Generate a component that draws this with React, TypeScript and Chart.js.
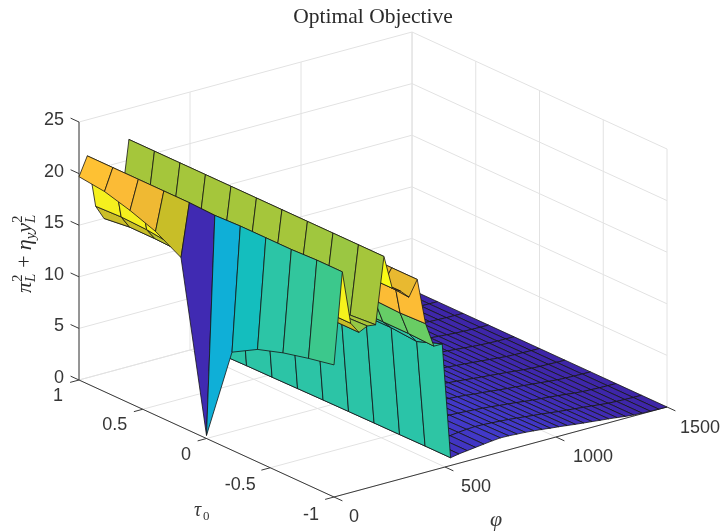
import React, { useEffect, useRef } from "react";
import { Chart, registerables } from "chart.js";

Chart.register(...registerables);

// phi grid: 0, 37.5, ... 1500 (41 columns); tau rows from 1 down to -1 in steps of 0.2
const phiStep = 37.5;
const tauRows = [1, 0.8, 0.6, 0.4, 0.2, 0, -0.2, -0.4, -0.6, -0.8, -1];

const zTauP10 = [19.7, 21.5, 16.4, 15.0, 15.5, 15.6, 22.0, 18.7, 18.2, 17.4, 18.9, 14.4, 12.1, 11.5, 0.5, 0.6, 0.7, 0.75, 0.8, 0.85, 0.88, 0.87, 0.85, 0.8, 0.76, 0.7, 0.65, 0.6, 0.54, 0.47, 0.41, 0.35, 0.3, 0.24, 0.18, 0.12, 0.07, 0.04, 0.02, 0.01, 0];
const zTauP08 = [19.4, 21.5, 16.5, 15.3, 15.5, 15.6, 22.0, 18.7, 18.2, 17.4, 18.9, 14.4, 12.1, 11.5, 0.55, 0.65, 0.72, 0.8, 0.85, 0.9, 0.93, 0.92, 0.9, 0.85, 0.8, 0.75, 0.7, 0.64, 0.57, 0.5, 0.44, 0.38, 0.32, 0.26, 0.2, 0.13, 0.08, 0.04, 0.02, 0.01, 0];
const zTauP06 = [18.7, 21.5, 16.4, 15.3, 15.5, 15.6, 22.0, 18.7, 18.2, 17.4, 18.9, 14.4, 12.1, 11.5, 0.6, 0.68, 0.76, 0.84, 0.9, 0.95, 0.98, 0.97, 0.95, 0.9, 0.85, 0.79, 0.73, 0.67, 0.6, 0.53, 0.46, 0.4, 0.34, 0.28, 0.21, 0.14, 0.08, 0.05, 0.02, 0.01, 0];
const zTauP04 = [17.8, 21.5, 16.1, 15.2, 15.5, 15.6, 22.0, 18.7, 18.2, 17.4, 18.9, 14.4, 12.1, 11.5, 0.62, 0.72, 0.8, 0.88, 0.95, 1.0, 1.04, 1.03, 1.0, 0.95, 0.9, 0.84, 0.77, 0.7, 0.63, 0.56, 0.48, 0.42, 0.36, 0.29, 0.22, 0.15, 0.09, 0.05, 0.02, 0.01, 0];
const zTauP02 = [16.4, 21.5, 16.2, 15.2, 15.5, 15.6, 22.0, 18.7, 18.2, 17.4, 18.9, 14.4, 12.1, 11.5, 0.65, 0.75, 0.84, 0.92, 1.0, 1.06, 1.1, 1.08, 1.05, 1.0, 0.95, 0.88, 0.8, 0.73, 0.66, 0.58, 0.5, 0.44, 0.37, 0.3, 0.23, 0.15, 0.09, 0.05, 0.02, 0.01, 0];
const zTau0 = [0.3, 21.4, 16.3, 15.2, 15.5, 15.6, 22.0, 18.7, 18.2, 17.4, 18.9, 14.4, 12.1, 11.5, 0.68, 0.78, 0.87, 0.96, 1.04, 1.12, 1.16, 1.14, 1.1, 1.05, 1.0, 0.92, 0.84, 0.77, 0.69, 0.6, 0.53, 0.46, 0.39, 0.32, 0.24, 0.16, 0.09, 0.05, 0.03, 0.01, 0];
const zTauM02 = [9.5, 21.5, 16.3, 15.3, 15.6, 15.6, 22.0, 18.7, 18.2, 17.4, 18.9, 14.4, 12.1, 11.5, 0.7, 0.8, 0.9, 1.0, 1.08, 1.16, 1.2, 1.18, 1.14, 1.09, 1.03, 0.96, 0.87, 0.8, 0.72, 0.63, 0.55, 0.48, 0.4, 0.33, 0.25, 0.16, 0.09, 0.05, 0.03, 0.01, 0];
const zTauM04 = [10.9, 21.5, 16.4, 15.3, 15.6, 15.6, 22.0, 18.7, 18.2, 17.4, 18.9, 14.4, 12.1, 11.3, 0.72, 0.84, 0.94, 1.03, 1.12, 1.2, 1.25, 1.23, 1.18, 1.13, 1.07, 1.0, 0.9, 0.83, 0.74, 0.65, 0.57, 0.5, 0.42, 0.34, 0.26, 0.17, 0.1, 0.06, 0.03, 0.01, 0];
const zTauM06 = [11.7, 21.5, 16.4, 15.3, 15.6, 15.5, 22.0, 18.7, 18.2, 17.4, 18.9, 14.4, 12.1, 11.3, 0.73, 0.86, 0.97, 1.06, 1.16, 1.24, 1.3, 1.27, 1.22, 1.17, 1.1, 1.03, 0.93, 0.85, 0.77, 0.67, 0.58, 0.51, 0.43, 0.35, 0.26, 0.17, 0.1, 0.06, 0.03, 0.01, 0];
const zTauM08 = [12.3, 21.6, 16.4, 15.3, 15.6, 15.4, 22.0, 18.7, 18.2, 17.6, 18.9, 14.3, 12.1, 11.1, 0.75, 0.9, 1.0, 1.1, 1.2, 1.28, 1.33, 1.3, 1.25, 1.2, 1.14, 1.06, 0.97, 0.88, 0.8, 0.7, 0.6, 0.52, 0.44, 0.36, 0.27, 0.18, 0.1, 0.06, 0.03, 0.01, 0];
const zTauM10 = [12.8, 21.6, 16.4, 15.3, 15.7, 15.6, 22.0, 18.7, 18.2, 17.4, 18.9, 14.4, 12.0, 12.0, 0.75, 0.9, 1.0, 1.1, 1.2, 1.3, 1.37, 1.35, 1.3, 1.25, 1.18, 1.1, 1.0, 0.92, 0.82, 0.72, 0.63, 0.55, 0.46, 0.38, 0.28, 0.18, 0.1, 0.06, 0.03, 0.01, 0];
const zRows = [zTauP10, zTauP08, zTauP06, zTauP04, zTauP02, zTau0, zTauM02, zTauM04, zTauM06, zTauM08, zTauM10];

const phiTicks = [0, 500, 1000, 1500];
const tauTicks = [1, 0.5, 0, -0.5, -1];
const zTicks = [0, 5, 10, 15, 20, 25];
const phiTickLabels = ["0", "500", "1000", "1500"];
const tauTickLabels = ["1", "0.5", "0", "-0.5", "-1"];
const zTickLabels = ["0", "5", "10", "15", "20", "25"];

// colour stops: [z, r, g, b]
const colourStops = [
  [0, 62, 38, 168], [0.3, 64, 42, 178], [1.5, 66, 60, 205], [5, 40, 120, 240], [9.5, 15, 175, 215],
  [10.9, 20, 190, 190], [11.1, 42, 196, 168], [12.1, 46, 197, 164], [12.8, 60, 200, 140], [14.4, 105, 205, 100],
  [15.6, 165, 198, 59], [16.4, 200, 190, 40], [17.4, 232, 185, 48], [18.5, 250, 185, 55], [19.7, 255, 195, 50],
  [20.5, 250, 215, 40], [21.5, 245, 240, 30], [22, 249, 251, 21],
];

function colourOf(z: number) {
  for (let s = 1; s < colourStops.length; s++) {
    if (z <= colourStops[s][0]) {
      const a = colourStops[s - 1], b = colourStops[s];
      const f = (z - a[0]) / (b[0] - a[0]);
      const c = [1, 2, 3].map((n) => Math.round(a[n] + (b[n] - a[n]) * f));
      return `rgb(${c[0]},${c[1]},${c[2]})`;
    }
  }
  return "rgb(249,251,21)";
}

// orthographic view of the box
function project(phi: number, tau: number, z: number) {
  const p = phi / 1500;
  const k = (1 - tau) / 2;
  return {
    x: 79 + 333 * p + 255 * k,
    y: 380 - 90 * p + 117 * k - (z / 25) * 258,
  };
}

function segment(a: { x: number; y: number }, b: { x: number; y: number }, colour: string, width: number) {
  return {
    data: [a, b],
    showLine: true,
    pointRadius: 0,
    borderColor: colour,
    borderWidth: width,
    fill: false,
    tension: 0,
  };
}

function buildDatasets() {
  const list: any[] = [];
  const grid = "#e2e2e2";
  for (const z of zTicks) {
    list.push(segment(project(0, 1, z), project(1500, 1, z), grid, 1));
    list.push(segment(project(1500, 1, z), project(1500, -1, z), grid, 1));
  }
  for (const phi of phiTicks) {
    list.push(segment(project(phi, 1, 0), project(phi, 1, 25), grid, 1));
    list.push(segment(project(phi, 1, 0), project(phi, -1, 0), grid, 1));
  }
  for (const tau of tauTicks) {
    list.push(segment(project(1500, tau, 0), project(1500, tau, 25), grid, 1));
    list.push(segment(project(0, tau, 0), project(1500, tau, 0), grid, 1));
  }
  const axis = "#3a3a3a";
  list.push(segment(project(0, 1, 0), project(0, 1, 25), axis, 1));
  list.push(segment(project(0, 1, 0), project(0, -1, 0), axis, 1));
  list.push(segment(project(0, -1, 0), project(1500, -1, 0), axis, 1));
  for (const z of zTicks) list.push(segment(project(0, 1, z), project(0, 1.066, z), axis, 1));
  for (const tau of tauTicks) list.push(segment(project(0, tau, 0), project(-40, tau, 0), axis, 1));
  for (const phi of phiTicks) list.push(segment(project(phi, -1, 0), project(phi, -1.066, 0), axis, 1));

  // far-to-near traversal of the height field
  for (let i = zRows[0].length - 2; i >= 0; i--) {
    for (let k = 0; k < tauRows.length - 1; k++) {
      const phiA = i * phiStep, phiB = (i + 1) * phiStep;
      const a = project(phiA, tauRows[k], zRows[k][i]);
      const b = project(phiB, tauRows[k], zRows[k][i + 1]);
      const c = project(phiB, tauRows[k + 1], zRows[k + 1][i + 1]);
      const d = project(phiA, tauRows[k + 1], zRows[k + 1][i]);
      list.push({
        data: [a, b, c, d, a],
        showLine: true,
        pointRadius: 0,
        borderColor: "#151515",
        borderWidth: 0.8,
        backgroundColor: colourOf(zRows[k + 1][i]),
        fill: "shape",
        tension: 0,
      });
    }
  }
  return list.reverse(); // Chart.js paints the last dataset first
}

const textPlugin = {
  id: "boxText",
  afterDraw(chart: any) {
    const ctx = chart.ctx;
    const sx = chart.scales.x, sy = chart.scales.y;
    const px = (q: { x: number; y: number }, dx = 0, dy = 0) => [sx.getPixelForValue(q.x) + dx, sy.getPixelForValue(q.y) + dy];
    ctx.save();
    ctx.textAlign = "center";
    ctx.textBaseline = "middle";
    ctx.fillStyle = "#363636";
    ctx.font = "18px 'Liberation Sans'";
    zTicks.forEach((z, n) => {
      const [x, y] = px(project(0, 1, z), -15, -2);
      ctx.textAlign = "right";
      ctx.fillText(zTickLabels[n], x, y);
    });
    ctx.textAlign = "center";
    const tauOff = [[-21, 16], [-28, 16], [-20.5, 17], [-30, 17], [-23, 18]];
    tauTicks.forEach((t, n) => {
      const [x, y] = px(project(0, t, 0), tauOff[n][0], tauOff[n][1]);
      ctx.fillText(tauTickLabels[n], x, y);
    });
    const phiOff = [[20, 20], [31, 20], [37, 20], [33, 21]];
    phiTicks.forEach((t, n) => {
      const [x, y] = px(project(t, -1, 0), phiOff[n][0], phiOff[n][1]);
      ctx.fillText(phiTickLabels[n], x, y);
    });

    const serif = "'Liberation Serif'";
    ctx.fillStyle = "#2a2a2a";
    ctx.font = `21.5px ${serif}`;
    ctx.fillText("Optimal Objective", 373, 17);

    ctx.font = `italic 22px ${serif}`;
    ctx.fillStyle = "#3a3a3a";
    ctx.fillText("φ", 496, 520);
    ctx.textAlign = "left";
    ctx.font = `italic 20px ${serif}`;
    ctx.fillText("τ", 194, 511);
    ctx.font = `13px ${serif}`;
    ctx.fillText("0", 203, 517);

    ctx.translate(26, 293);
    ctx.rotate(-Math.PI / 2);
    ctx.fillStyle = "#2a2a2a";
    ctx.textBaseline = "alphabetic";
    let pen = 0;
    const run = (s: string, size: number, rise: number, style: string, advance = true) => {
      ctx.font = `${style} ${size}px ${serif}`;
      ctx.fillText(s, pen, 5 - rise);
      if (advance) pen += ctx.measureText(s).width;
    };
    run("π", 22, 0, "italic");
    run("2", 15, 9, "normal", false);
    run("L", 15, -4, "italic");
    pen += 6;
    run("+", 22, 0, "normal");
    pen += 5;
    run("η", 22, 0, "italic");
    run("y", 15, -4, "italic");
    run("y", 22, 0, "italic");
    run("2", 15, 9, "normal", false);
    run("L", 15, -4, "italic");
    ctx.restore();
  },
};

export default function App() {
  const ref = useRef<HTMLCanvasElement>(null);
  useEffect(() => {
    const chart = new Chart(ref.current as HTMLCanvasElement, {
      type: "scatter",
      data: { datasets: buildDatasets() },
      options: {
        animation: false,
        responsive: false,
        events: [],
        layout: { padding: 0 },
        plugins: { legend: { display: false }, tooltip: { enabled: false } },
        scales: {
          x: { type: "linear", min: 0, max: 725, display: false },
          y: { type: "linear", min: 0, max: 531, reverse: true, display: false },
        },
      },
      plugins: [textPlugin],
    } as any);
    return () => chart.destroy();
  }, []);
  return (
    <div style={{ position: "absolute", left: 0, top: 0, width: 725, height: 531, background: "#fff" }}>
      <canvas ref={ref} width={725} height={531} style={{ display: "block" }} />
    </div>
  );
}
